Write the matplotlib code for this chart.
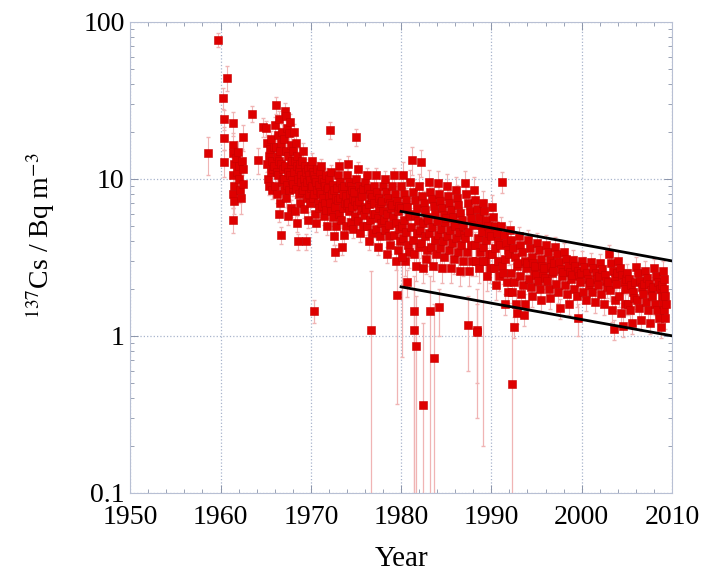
import matplotlib
matplotlib.use('Agg')
import matplotlib.pyplot as plt
from matplotlib.ticker import MultipleLocator, LogLocator, NullFormatter, FixedLocator, FixedFormatter

plt.rcParams['font.family'] = 'Liberation Serif'
plt.rcParams['mathtext.fontset'] = 'stix'

# early sparse measurements (year, Bq m-3, error)
early_x = [1958.6, 1959.7, 1960.3, 1960.4, 1960.4, 1960.4, 1960.7,
           1961.4, 1961.4, 1961.4, 1961.4, 1961.5, 1961.4, 1961.5, 1961.4, 1961.5,
           1961.7, 1961.8, 1961.9, 1962.0, 1962.1, 1962.2, 1962.3, 1962.4, 1962.5,
           1962.5, 1962.5, 1963.5, 1964.2, 1964.7]
early_y = [14.6, 76.8, 32.8, 24.0, 18.3, 12.8, 44.0,
           22.7, 16.5, 5.5, 14.5, 12.5, 10.5, 9.0, 8.0, 7.2,
           13.5, 11.0, 14.8, 12.0, 10.0, 8.5, 7.5, 13.0, 11.5,
           9.3, 18.5, 26.0, 13.2, 21.4]
early_err = [4.0, 8.0, 5.0, 3.5, 3.0, 2.5, 8.0,
             4.0, 3.0, 1.0, 2.5, 2.0, 2.0, 1.5, 1.5, 1.2,
             2.5, 2.0, 2.5, 2.0, 2.0, 1.5, 1.5, 2.5, 2.0,
             1.8, 3.5, 3.0, 2.5, 3.0]

# dense monitoring record, values per year
years = list(range(1965, 2009))
yearly = [
    [21, 12.5, 17, 10, 14, 9, 15.5, 11, 18, 8.5, 13, 11.5, 16, 12],
    [22, 9, 16, 29.6, 11, 14, 8, 19, 10.5, 6, 13, 24, 7, 15, 4.4, 12.5, 17, 9.5, 20, 11.5, 10, 8.5],
    [18, 10, 27, 12, 15, 7.5, 25, 9.2, 21, 11, 5.8, 14, 8.5, 19.5, 10.5, 23, 6.5, 16.5, 12.5, 9.8, 13, 8.8],
    [15, 9.3, 20, 11, 13, 6.2, 17, 8.6, 12, 5.2, 14, 10, 4.0, 11.5, 8, 12.5, 7, 10.5, 9.6, 8.2],
    [13, 8.5, 15, 10, 6.4, 12, 9, 11, 4.0, 9.5, 7.5, 11.5, 5.5, 10.5, 8, 9.8, 7, 8.8],
    [12, 9, 13, 7.5, 11, 8, 10.5, 6, 10, 5.2, 9.5, 8.5, 11.5, 7, 9.2, 6.5, 8.2],
    [11, 8, 12, 6.7, 10, 7.5, 9.5, 5.8, 9, 7, 10.5, 6.3, 8.5, 5, 8.8, 7.8],
    [10, 7, 20.5, 6.2, 11, 8, 5.7, 9.2, 4.3, 8.5, 6.6, 3.4, 7.5, 5, 8.8, 7.3],
    [10.5, 6, 12, 7.5, 9.5, 5.5, 8.7, 3.7, 8, 6.5, 4.4, 9, 7, 5, 7.8, 6.8],
    [10.5, 7, 12.5, 6.2, 9.5, 8, 5.3, 9, 6.6, 8.5, 4.8, 7.5, 8.3, 5.8, 7.2, 18.5],
    [10, 6.8, 11.5, 5.4, 9, 7.2, 4.5, 8.3, 6.3, 7.8, 5, 8.6, 5.9, 6.6],
    [9.5, 6.4, 10.5, 5, 8.7, 6.9, 4, 8, 5.5, 7.4, 4.5, 7.7, 6, 7],
    [9, 6, 10.5, 4.8, 8.2, 5.6, 3.7, 7.5, 6.5, 4.3, 7, 5.2, 7.2, 6.2],
    [9, 5.5, 10, 4.7, 8.2, 6, 3.3, 7.5, 5.1, 4.3, 7, 3.8, 6.5, 6.8],
    [9, 5.7, 10.5, 4.4, 8, 5.2, 3, 7.2, 6.2, 3.5, 6.7, 4.8, 4, 6.5],
    [9, 5, 10.6, 4.2, 8, 5.5, 3, 7.3, 4.6, 2.2, 6.6, 3.8, 6, 3.4, 5.8],
    [9.5, 4.9, 13.2, 4.1, 8.2, 3.3, 5.9, 7.3, 2.8, 6.5, 4.5, 5.4, 3.7],
    [9, 4.7, 12.8, 3.9, 7.8, 5.2, 2.7, 7, 4.3, 6.3, 3.1, 5.7, 3.5, 5.5],
    [9.5, 4.5, 8.3, 3.7, 7.4, 4.9, 2.8, 6.7, 4.1, 6, 3.3, 5.4],
    [9.4, 4.4, 8, 3.6, 7.2, 4.8, 2.7, 6.5, 4, 5.9, 3.2, 5.3, 5.6],
    [9, 4.3, 7.8, 3.5, 7, 4.7, 2.7, 6.3, 3.9, 5.7, 3.1, 5.2, 5],
    [8.5, 4.2, 7.6, 3.4, 6.8, 4.6, 2.6, 6.1, 3.8, 5.5, 3, 5, 4.4],
    [9.4, 4.2, 8, 3.4, 7, 4.6, 2.6, 6.2, 3.8, 5.6, 3, 5.1],
    [8.5, 3.8, 7.3, 3, 6.4, 4.2, 2.7, 5.7, 3.4, 5.1, 4.6],
    [7, 3.7, 6.2, 3, 5.5, 4.1, 2.4, 5, 3.3, 4.5, 2.7, 4.3],
    [6.6, 3.3, 5.7, 2.7, 5, 3.6, 2.1, 4.5, 3, 4, 2.4, 3.8],
    [5, 2.8, 9.6, 2.5, 4.4, 3.1, 1.6, 3.9, 2.2, 3.5, 1.9, 3.3],
    [4.7, 2.5, 4.1, 1.9, 3.6, 2.2, 1.14, 3.2, 1.6, 2.8, 1.4, 2.9],
    [4.3, 2.4, 3.8, 1.85, 3.4, 2.1, 1.35, 3, 1.6, 2.7, 2.9],
    [4.1, 2.3, 3.6, 2.05, 3.2, 1.8, 2.9, 2.6, 2.8, 2.45],
    [3.9, 2.25, 3.5, 2, 3.1, 1.7, 2.8, 2.5, 2.7, 2.35],
    [3.8, 2.25, 3.4, 2, 3.05, 1.75, 2.75, 2.5, 2.6, 2.9],
    [3.7, 2.15, 3.3, 1.9, 2.95, 1.5, 2.65, 2.4, 2.55],
    [3.4, 2.1, 3.1, 1.85, 2.8, 1.6, 2.55, 2.3, 2.45],
    [3.05, 2, 2.8, 1.8, 2.6, 2.4, 2.2, 2.5],
    [3, 1.9, 2.75, 1.7, 2.5, 2.3, 2.1, 2.2],
    [2.95, 1.9, 2.7, 1.65, 2.5, 2.3, 2.1, 2.4],
    [2.9, 1.85, 2.65, 1.6, 2.45, 2.25, 2.05, 2.2],
    [3.3, 1.95, 2.9, 1.45, 2.6, 1.1, 2.35, 1.7, 2.15, 2.5],
    [3, 1.8, 2.7, 1.4, 2.45, 1.15, 2.2, 1.6, 2, 2.3],
    [2.5, 1.6, 2.3, 1.45, 2.1, 1.2, 1.9, 1.75, 2.2],
    [2.75, 1.7, 2.5, 1.5, 2.25, 1.26, 2.05, 1.85, 2.15],
    [2.6, 1.65, 2.35, 1.45, 2.15, 1.2, 1.95, 1.8, 2.05],
    [2.7, 1.6, 2.4, 1.45, 2.2, 1.3, 2, 1.14, 1.8, 2.1],
]
rel_err = [0.12] * 15 + [0.2] * 11 + [0.15] * 18

# last partial year
last_x = [2009.02, 2009.06, 2009.1, 2009.14, 2009.18, 2009.22, 2009.26, 2009.3]
last_y = [2.6, 1.6, 2.3, 1.45, 2.0, 1.3, 1.8, 1.6]

# low values with large uncertainties
out_x = [1970.3, 1976.7, 1979.6, 1980.1, 1981.4, 1981.4, 1981.6, 1982.4, 1983.2, 1983.7,
         1984.2, 1987.4, 1988.4, 1988.4, 1989.1, 1992.3, 1999.6]
out_y = [1.44, 1.09, 1.82, 3.2, 1.44, 1.09, 0.86, 0.36, 1.44, 0.72,
         1.53, 1.17, 1.09, 1.05, 3.0, 0.49, 1.3]
out_lo = [1.2, 0.05, 0.37, 0.73, 0.05, 0.05, 0.05, 0.05, 0.05, 0.05,
          1.0, 0.6, 0.5, 0.3, 0.2, 0.05, 1.0]
out_hi = [1.7, 2.6, 3.0, 5.0, 2.4, 2.0, 1.8, 1.2, 2.4, 1.6,
          2.0, 1.8, 1.6, 2.0, 4.5, 1.2, 1.6]

# exponential decay envelopes
fit_x = [1980, 2010]
upper_y = [6.2, 3.0]
lower_y = [2.05, 1.0]

xs, ys, es = list(early_x), list(early_y), list(early_err)
for yr, vals, r in zip(years, yearly, rel_err):
    n = len(vals)
    for i, v in enumerate(vals):
        xs.append(yr + (i + 0.5) / n)
        ys.append(v)
        es.append(v * r)
for x, v in zip(last_x, last_y):
    xs.append(x)
    ys.append(v)
    es.append(v * 0.15)

fig = plt.figure(figsize=(7.08, 5.75), dpi=100)
ax = fig.add_axes([0.184, 0.143, 0.765, 0.819])

ecol = '#f0b4b4'
red = '#de0000'
ax.errorbar(xs, ys, yerr=es, fmt='none', ecolor=ecol, elinewidth=0.8, capsize=1.5, zorder=2)
lo_err = [v - l for v, l in zip(out_y, out_lo)]
hi_err = [h - v for v, h in zip(out_y, out_hi)]
ax.errorbar(out_x, out_y, yerr=[lo_err, hi_err], fmt='none', ecolor=ecol,
            elinewidth=0.9, capsize=1.5, zorder=2)
ax.plot(xs, ys, 's', ms=6.2, color=red, mec='#c80000', mew=0.4, zorder=3)
ax.plot(out_x, out_y, 's', ms=6.2, color=red, mec='#c80000', mew=0.4, zorder=3)

ax.plot(fit_x, upper_y, color='black', lw=2, zorder=4)
ax.plot(fit_x, lower_y, color='black', lw=2, zorder=4)

ax.set_yscale('log')
ax.set_xlim(1950, 2010)
ax.set_ylim(0.1, 100)

ax.xaxis.set_major_locator(MultipleLocator(10))
ax.xaxis.set_minor_locator(MultipleLocator(2))
ax.yaxis.set_major_locator(FixedLocator([0.1, 1, 10, 100]))
ax.yaxis.set_major_formatter(FixedFormatter(['0.1', '1', '10', '100']))
ax.yaxis.set_minor_locator(LogLocator(base=10, subs=range(2, 10)))
ax.yaxis.set_minor_formatter(NullFormatter())

tc = '#8a94aa'
ax.tick_params(which='both', direction='in', top=True, right=True, colors=tc,
               labelcolor='black', labelsize=20)
ax.tick_params(which='major', length=6, width=0.7)
ax.tick_params(which='minor', length=3, width=0.6)
ax.tick_params(axis='x', pad=9)
ax.tick_params(axis='y', pad=4)
for s in ax.spines.values():
    s.set_color('#b8c0d4')
    s.set_linewidth(0.8)

ax.grid(True, which='major', linestyle=':', color='#a8b4cc', linewidth=0.9, zorder=0)
ax.set_axisbelow(True)

ax.set_xlabel('Year', fontsize=21)
ax.set_ylabel(r'$^{137}$Cs / Bq m$^{-3}$', fontsize=20)
ax.xaxis.set_label_coords(0.5, -0.112)
ax.yaxis.set_label_coords(-0.135, 0.545)

fig.savefig('out.png', dpi=100)
